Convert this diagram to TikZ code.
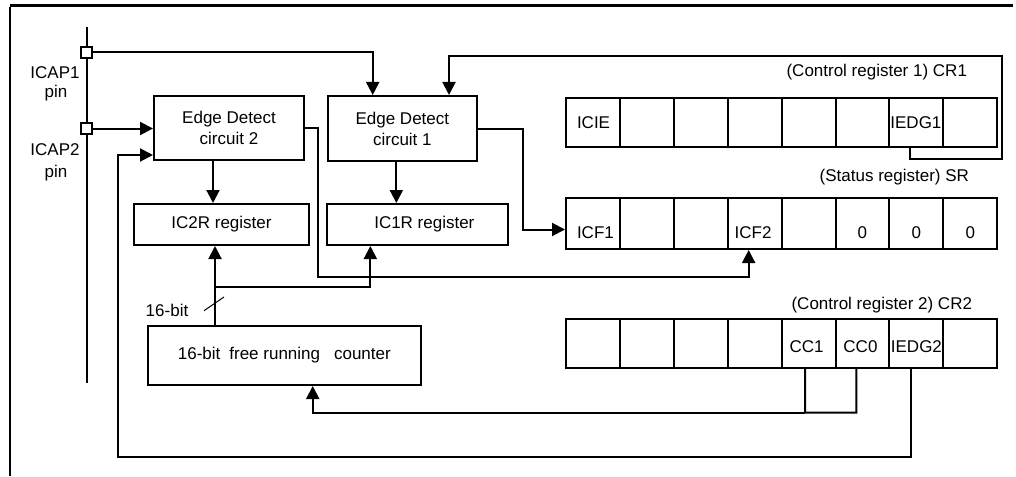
\documentclass[tikz,border=0pt]{standalone}
\usepackage{fontspec}
\setmainfont{Liberation Sans}
\usetikzlibrary{arrows.meta,calc}
\newcommand\dfont{\fontsize{17}{21}\selectfont}
\begin{document}
\begin{tikzpicture}[x=1pt,y=-1pt,line width=2pt,
  box/.style={draw,line width=2pt,inner sep=0pt,anchor=north west,font=\dfont,align=center},
  cell/.style={draw,line width=2pt,inner sep=0pt,anchor=north west,minimum width=53.9pt},
  sq/.style={draw,fill=white,line width=1.5pt,minimum size=11pt,inner sep=0pt},
  lbl/.style={font=\dfont,inner sep=0pt},
  arr/.style={-{Triangle[length=13pt,width=13pt]}},
  wire/.style={line width=2pt}]
\useasboundingbox (0,0) rectangle (1016,476);
% frame
\draw[line width=2.5pt] (10,5.5) -- (1013,5.5);
\draw (10,7) -- (10,476);
% pin line
\draw (86.5,27) -- (86.5,383);
\node[sq] (sq1) at (86.5,52.5) {};
\node[sq] (sq2) at (86.5,128.5) {};
\node[lbl] (icap1) at (55,73) {ICAP1};
\node[lbl] (pin1) at (56,93) {pin};
\node[lbl] (icap2) at (55,150) {ICAP2};
\node[lbl] (pin2) at (56,173) {pin};
% boxes
\node[box,minimum width=150pt,minimum height=64pt] (ed2) at (153,95) {Edge Detect\\circuit 2};
\node[box,minimum width=149.3pt,minimum height=65pt] (ed1) at (326.7,95) {Edge Detect\\circuit 1};
\node[box,minimum width=175pt,minimum height=41pt] (ic2r) at (133,203) {IC2R register};
\node[box,minimum width=180.7pt,minimum height=41pt] (ic1r) at (326,203) {\hspace{14pt}IC1R register};
\node[box,minimum width=273.3pt,minimum height=59pt] (cnt) at (146.7,325) {16-bit\hspace{9pt}free running\hspace{14pt}counter};
% registers
\foreach \i in {1,...,8}{
  \node[cell,minimum height=49.3pt] (cr1-\i) at ({565+(\i-1)*53.9},96.7) {};
  \node[cell,minimum height=51.3pt] (sr-\i) at ({565+(\i-1)*53.9},196.7) {};
  \node[cell,minimum height=49pt] (cr2-\i) at ({565+(\i-1)*53.9},318) {};
}
\node[lbl,anchor=east] (cr1lbl) at (968,72) {(Control register 1) CR1};
\node[lbl,anchor=east] (srlbl) at (970,177) {(Status register) SR};
\node[lbl,anchor=east] (cr2lbl) at (973,305) {(Control register 2) CR2};
\node[lbl,anchor=west] (ticie) at ([xshift=11pt]cr1-1.west) {ICIE};
\node[lbl,anchor=west] (tiedg1) at ([xshift=1pt]cr1-7.west) {IEDG1};
\node[lbl,anchor=west] (ticf1) at ([xshift=11pt,yshift=-9pt]sr-1.west) {ICF1};
\node[lbl,anchor=west] (ticf2) at ([xshift=7pt,yshift=-9pt]sr-4.west) {ICF2};
\node[lbl] (tz6) at ([yshift=-9pt]sr-6.center) {0};
\node[lbl] (tz7) at ([yshift=-9pt]sr-7.center) {0};
\node[lbl] (tz8) at ([yshift=-9pt]sr-8.center) {0};
\node[lbl] (tcc1) at ([xshift=-2pt,yshift=-3pt]cr2-5.center) {CC1};
\node[lbl] (tcc0) at ([xshift=-2pt,yshift=-3pt]cr2-6.center) {CC0};
\node[lbl,anchor=west] (tiedg2) at ([xshift=1.5pt,yshift=-3pt]cr2-7.west) {IEDG2};
% connectors
\draw[arr] (sq1.east) -| ([xshift=46pt]ed1.north west);
\draw[arr] (sq2.east) -- (sq2.east -| ed2.west);
\coordinate (fbL) at (118,457);
\draw[arr] ([xshift=-5pt]cr2-7.south) |- (fbL) |- ([yshift=-27pt]ed2.west);
\coordinate (fbR) at (1002,159);
\coordinate (fbT) at (449,56);
\draw[arr] ([xshift=-6.6pt]cr1-7.south) |- (fbR) |- (fbT) -- ([xshift=122.3pt]ed1.north west);
\coordinate (e1b) at (522.7,229.5);
\draw[arr] (ed1.east) -| (e1b) -- (e1b -| sr-1.west);
\coordinate (e2b) at (317.7,276.7);
\draw[arr] (ed2.east) -| (e2b) -| ([xshift=-6pt]sr-4.south);
\draw[arr] ([xshift=-16pt]ed2.south) -- ([xshift=-16pt]ed2.south |- ic2r.north);
\draw[arr] ([xshift=-6pt]ed1.south) -- ([xshift=-6pt]ed1.south |- ic1r.north);
\coordinate (cup) at ([xshift=68.3pt]cnt.north west);
\draw[arr] (cup) -- (cup |- ic2r.south);
\coordinate (br) at (215,286.5);
\draw[arr] (br) -| ([xshift=-47pt]ic1r.south);
\draw[line width=1pt] (204,310.7) -- (224,297);
\node[lbl] (bits) at (167,310) {16-bit};
\coordinate (ccj) at (805,412.7);
\draw ([xshift=-3.5pt]cr2-5.south) -- (ccj) -| ([xshift=-6pt]cr2-6.south);
\draw[arr] (ccj) -| ([xshift=28.4pt]cnt.south);
\end{tikzpicture}
\end{document}
